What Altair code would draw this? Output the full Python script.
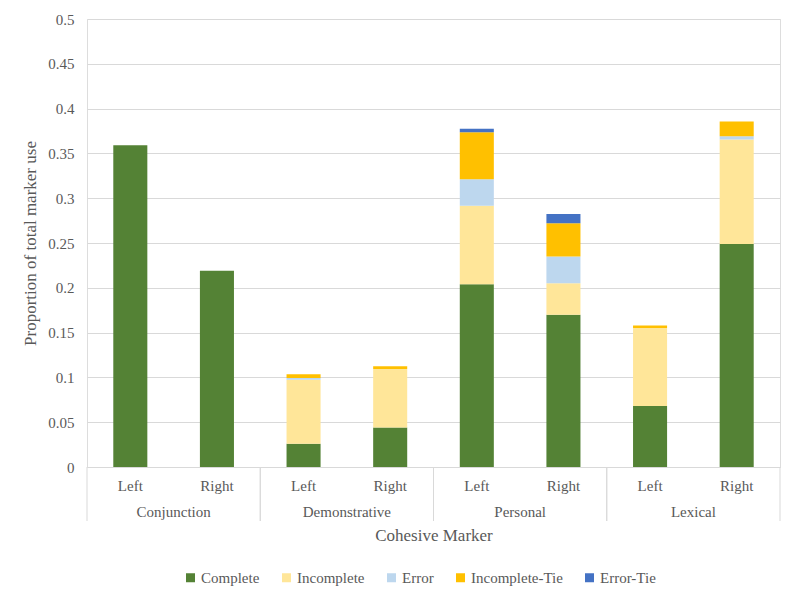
import altair as alt
import pandas as pd

groups = ["Conjunction", "Demonstrative", "Personal", "Lexical"]
sides = ["Left", "Right"]
categories = ["Complete", "Incomplete", "Error", "Incomplete-Tie", "Error-Tie"]
colors = ["#548235", "#FFE699", "#BDD7EE", "#FFC000", "#4472C4"]

# per bar: Conj L, Conj R, Demo L, Demo R, Pers L, Pers R, Lex L, Lex R
complete = [0.359, 0.219, 0.026, 0.044, 0.204, 0.170, 0.068, 0.249]
incomplete = [0.0, 0.0, 0.0715, 0.0655, 0.0875, 0.035, 0.087, 0.1165]
error = [0.0, 0.0, 0.0018, 0.0, 0.0297, 0.030, 0.0, 0.0037]
incomplete_tie = [0.0, 0.0, 0.0042, 0.003, 0.0525, 0.037, 0.003, 0.0164]
error_tie = [0.0, 0.0, 0.0, 0.0, 0.0038, 0.0105, 0.0, 0.0]

y_ticks = [0, 0.05, 0.1, 0.15, 0.2, 0.25, 0.3, 0.35, 0.4, 0.45, 0.5]

FONT = "Liberation Serif"
TXT = "#595959"
GRID = "#D9D9D9"

series = [complete, incomplete, error, incomplete_tie, error_tie]
keys = [f"{g}|{s}" for g in groups for s in sides]
rows = []
for ci, (cat, vals) in enumerate(zip(categories, series)):
    for k, v in zip(keys, vals):
        rows.append({"key": k, "category": cat, "value": v, "idx": ci})
df = pd.DataFrame(rows)
gdf = pd.DataFrame({"group": groups})

bars = alt.Chart(df).mark_bar().encode(
    x=alt.X(
        "key:N",
        sort=keys,
        scale=alt.Scale(paddingInner=0.607, paddingOuter=0.3035),
        axis=alt.Axis(
            labelExpr="split(datum.label, '|')[1]",
            title="Cohesive Marker",
            labelAngle=0,
            ticks=False,
            grid=False,
            domainColor=GRID,
            labelPadding=11,
            labelFontSize=15,
            labelColor=TXT,
            labelFont=FONT,
            titleFontSize=17,
            titleFontWeight="normal",
            titleColor=TXT,
            titleFont=FONT,
            titlePadding=34,
        ),
    ),
    y=alt.Y(
        "value:Q",
        stack="zero",
        scale=alt.Scale(domain=[0, 0.5], nice=False),
        axis=alt.Axis(
            values=y_ticks,
            format="~g",
            title="Proportion of total marker use",
            domain=False,
            ticks=False,
            grid=True,
            gridColor=GRID,
            labelPadding=13,
            labelFontSize=15,
            labelColor=TXT,
            labelFont=FONT,
            titleFontSize=17,
            titleFontWeight="normal",
            titleColor=TXT,
            titleFont=FONT,
            titlePadding=8,
        ),
    ),
    color=alt.Color(
        "category:N",
        scale=alt.Scale(domain=categories, range=colors),
        legend=alt.Legend(
            title=None,
            orient="none",
            direction="horizontal",
            legendX=96,
            legendY=551,
            symbolType="square",
            symbolSize=81,
            symbolStrokeWidth=0,
            labelFontSize=15,
            labelColor=TXT,
            labelFont=FONT,
            labelOffset=3,
            columnPadding=19,
        ),
    ),
    order=alt.Order("idx:Q", sort="ascending"),
)

gscale = alt.Scale(paddingInner=0, paddingOuter=0)

glabels = alt.Chart(gdf).mark_text(
    baseline="middle", align="center", fontSize=15, color=TXT, font=FONT
).encode(
    x=alt.X("group:N", sort=groups, scale=gscale, axis=None),
    y=alt.value(493),
    text="group:N",
)

seps_start = alt.Chart(gdf).mark_rule(color=GRID, strokeWidth=1).encode(
    x=alt.X("group:N", sort=groups, scale=gscale, axis=None, bandPosition=0),
    y=alt.value(448),
    y2=alt.value(502),
)
seps_end = alt.Chart(gdf).mark_rule(color=GRID, strokeWidth=1).encode(
    x=alt.X("group:N", sort=groups, scale=gscale, axis=None, bandPosition=1),
    y=alt.value(448),
    y2=alt.value(502),
)

chart = (
    alt.layer(bars, glabels, seps_start, seps_end)
    .resolve_scale(x="independent")
    .properties(
        width=693,
        height=448,
        padding={"left": 79, "top": 11, "right": 12, "bottom": 125},
        autosize=alt.AutoSizeParams(type="none"),
    )
    .configure_view(stroke=None)
    .configure(font=FONT)
)

chart.save("out.html", embed_options={"renderer": "svg", "actions": False})
